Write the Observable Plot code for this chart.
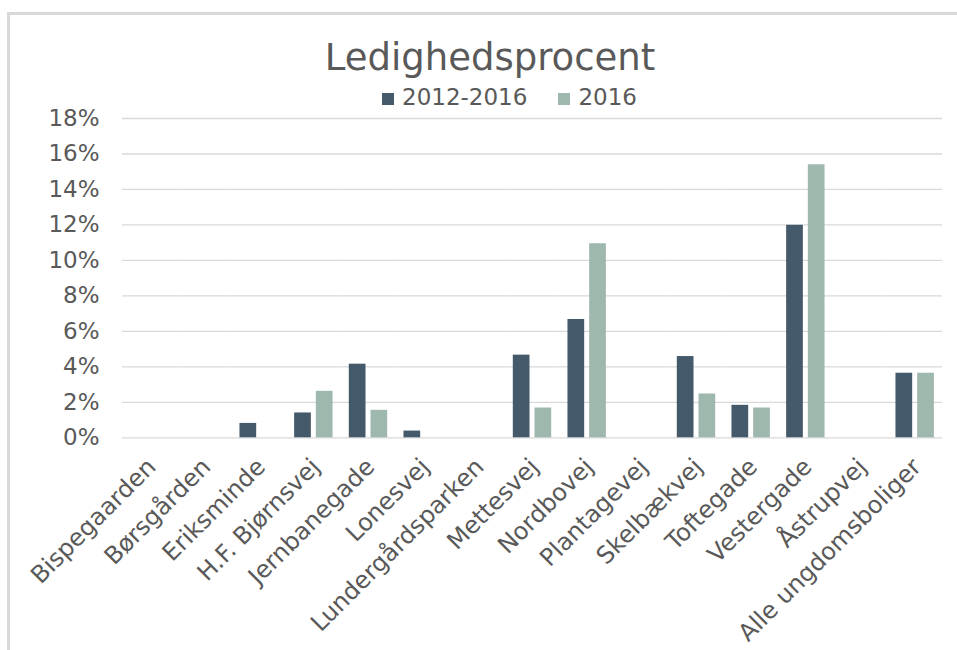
<!DOCTYPE html>
<html><head><meta charset="utf-8">
<script src="https://cdn.jsdelivr.net/npm/d3@7"></script>
<script src="https://cdn.jsdelivr.net/npm/@observablehq/plot@0.6"></script>
<style>
body{margin:0;background:#fff;font-family:"DejaVu Sans",Verdana,sans-serif;color:#595959;}
#wrap{position:relative;width:957px;height:650px;overflow:hidden;background:#fff;}
#frame{position:absolute;left:7px;top:12px;width:1000px;height:700px;border-top:3px solid #d9d9d9;border-left:3px solid #d9d9d9;}
#title{position:absolute;left:0;width:980px;top:39px;text-align:center;font-size:37px;line-height:37px;white-space:nowrap;}
#legend{position:absolute;left:382px;top:86px;font-size:23px;line-height:23px;display:flex;white-space:nowrap;}
#legend .item{display:flex;align-items:baseline;margin-right:31px;}
#legend .sw{display:inline-block;width:12px;height:12px;margin-right:8px;}
#chart{position:absolute;left:0;top:88px;}
</style>
</head><body>
<div id="wrap">
  <div id="frame"></div>
  <div id="chart"></div>
  <div id="title"></div>
  <div id="legend"></div>
</div>
<script>
const titleText = "Ledighedsprocent";
const categories = ["Bispegaarden","Børsgården","Eriksminde","H.F. Bjørnsvej","Jernbanegade","Lonesvej","Lundergårdsparken","Mettesvej","Nordbovej","Plantagevej","Skelbækvej","Toftegade","Vestergade","Åstrupvej","Alle ungdomsboliger"];
const series = ["2012-2016","2016"];
const values20122016 = [0,0,0.0081,0.0140,0.0415,0.0038,0,0.0466,0.0667,0,0.0458,0.0183,0.1198,0,0.0364];
const values2016 = [0,0,0,0.0262,0.0155,0,0,0.0168,0.1094,0,0.0247,0.0168,0.1539,0,0.0364];
const colors = ["#44596a","#9eb8ae"];
const yTicks = [0,0.02,0.04,0.06,0.08,0.10,0.12,0.14,0.16,0.18];

const data = categories.flatMap((c,i)=>[
  {cat:c, series:series[0], value:values20122016[i]},
  {cat:c, series:series[1], value:values2016[i]}
]);

document.getElementById("title").textContent = titleText;
const leg = document.getElementById("legend");
series.forEach((s,i)=>{
  const it = document.createElement("span"); it.className="item";
  const sw = document.createElement("span"); sw.className="sw"; sw.style.background = colors[i];
  const tx = document.createElement("span"); tx.textContent = s;
  it.appendChild(sw); it.appendChild(tx); leg.appendChild(it);
});

const chart = Plot.plot({
  width: 957, height: 562,
  marginTop: 30, marginBottom: 212.7, marginLeft: 122, marginRight: 15,
  style: {fontFamily: "DejaVu Sans", fontSize: "23px", color: "#595959", background: "transparent", overflow: "visible"},
  fx: {domain: categories, padding: 0, round: false, label: null},
  x: {domain: series, paddingInner: 0.23, paddingOuter: 0.375, round: false, axis: null},
  y: {domain: [0, 0.18], label: null},
  color: {domain: series, range: colors},
  marks: [
    Plot.gridY(yTicks, {stroke: "#d9d9d9", strokeOpacity: 1, strokeWidth: 1.3}),
    Plot.axisY(yTicks, {tickFormat: d3.format(".0%"), label: null, tickSize: 0, tickPadding: 23, fontSize: 23}),
    Plot.axisFx({anchor: "bottom", label: null, tickRotate: -45, tickSize: 0, tickPadding: 25, dx: 2, fontSize: 24}),
    Plot.barY(data, {fx: "cat", x: "series", y: "value", fill: "series"})
  ]
});
document.getElementById("chart").appendChild(chart);
</script>
</body></html>
